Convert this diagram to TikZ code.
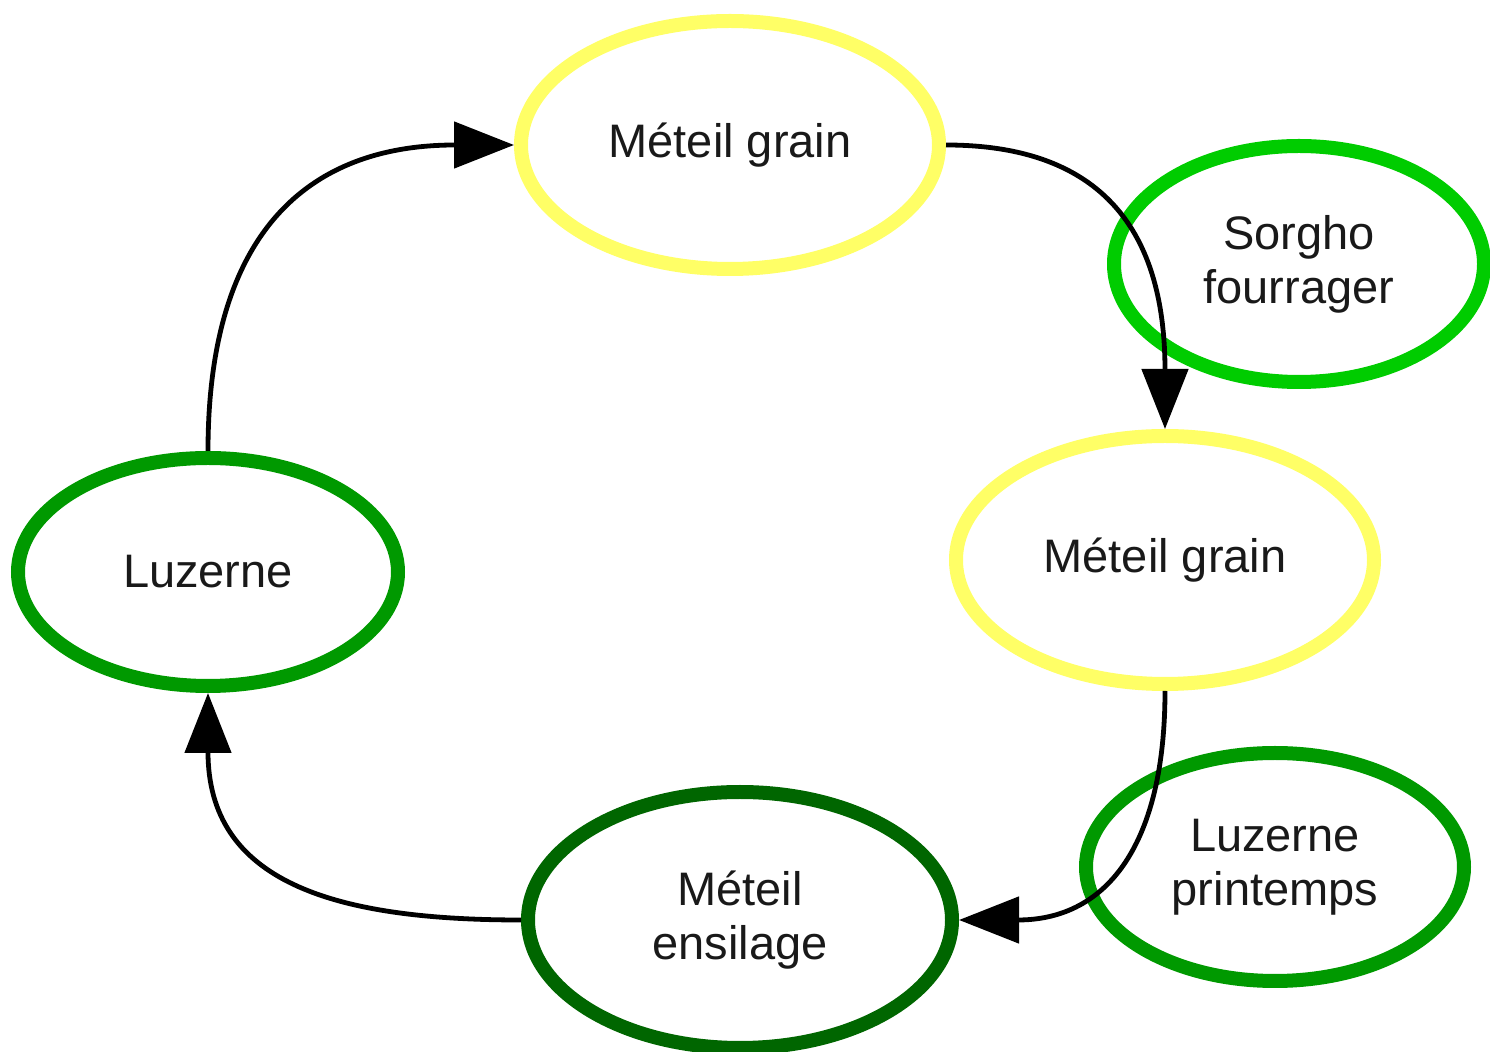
\documentclass[tikz,border=0pt]{standalone}
\usepackage{fontspec}
\setmainfont{Liberation Sans}
\usetikzlibrary{shapes.geometric,arrows.meta}
\definecolor{cyel}{RGB}{255,255,102}
\definecolor{cbright}{RGB}{0,204,0}
\definecolor{cmid}{RGB}{0,153,0}
\definecolor{cdark}{RGB}{0,102,0}
\tikzset{
  crop/.style={ellipse, draw=#1, line width=7pt, inner sep=0pt, align=center,
    font=\fontsize{23.5}{27}\selectfont, text=black!90},
  flow/.style={line width=2.4pt, looseness=1.25, -{Triangle[length=30pt,width=23pt]}}
}
\begin{document}
\begin{tikzpicture}[x=0.5pt,y=-0.5pt]
\useasboundingbox (0,0) rectangle (1490,1052);
\node[crop=cyel, minimum width=209pt, minimum height=124pt] (mt) at (730,145) {Méteil grain};
\node[crop=cbright, minimum width=185pt, minimum height=118pt] (sf) at (1299,264) {Sorgho\\fourrager};
\node[crop=cyel, minimum width=209pt, minimum height=124pt] (mr) at (1165,560) {Méteil grain};
\node[crop=cmid, minimum width=190pt, minimum height=114pt] (lz) at (208,572) {Luzerne};
\node[crop=cmid, minimum width=189pt, minimum height=114pt] (lp) at (1275,867) {Luzerne\\printemps};
\node[crop=cdark, minimum width=212pt, minimum height=128pt] (me) at (740,920) {Méteil\\ensilage};
\draw[flow] (lz.north) to[out=90,in=180] (mt.west);
\draw[flow] (mt.east) to[out=0,in=90] (mr.north);
\draw[flow] (mr.south) to[out=-90,in=0] (me.east);
\draw[flow] (me.west) to[out=180,in=-90] (lz.south);
\end{tikzpicture}
\end{document}
